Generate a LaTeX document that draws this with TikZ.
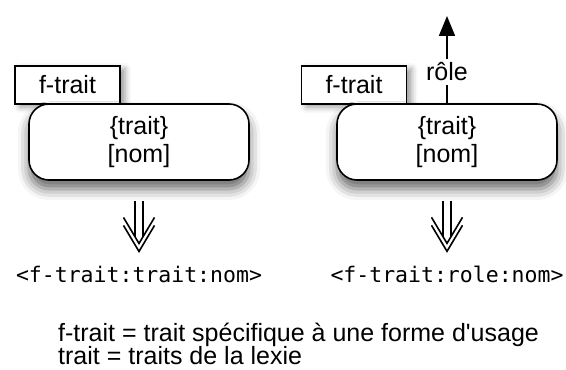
\documentclass[tikz,border=0pt]{standalone}
\usepackage{fontspec}
\setmainfont{Liberation Sans}
\newfontfamily\codefont{DejaVu Sans Mono}
\usetikzlibrary{arrows.meta, positioning, shadows.blur}

% pointe en double chevron pour les fleches doubles
\pgfdeclarearrow{
  name = Chevrons,
  parameters = {},
  setup code = {
    \pgfarrowssettipend{1pt}
    \pgfarrowssetbackend{-34pt}
    \pgfarrowssetlineend{-14pt}
  },
  drawing code = {
    \pgfsetlinewidth{1.6pt}
    \pgfsetinnerlinewidth{0pt}
    \pgfsetdash{}{0pt}
    \pgfsetmiterjoin
    \pgfpathmoveto{\pgfpoint{-26pt}{15.5pt}}
    \pgfpathlineto{\pgfpoint{0pt}{0pt}}
    \pgfpathlineto{\pgfpoint{-26pt}{-15.5pt}}
    \pgfpathmoveto{\pgfpoint{-34pt}{15.5pt}}
    \pgfpathlineto{\pgfpoint{-8pt}{0pt}}
    \pgfpathlineto{\pgfpoint{-34pt}{-15.5pt}}
    \pgfusepathqstroke
  }
}

\begin{document}
\begin{tikzpicture}[
        x=1pt, y=1pt,
        etiquette/.style={rectangle, draw=black, fill=white, line width=1.6pt, minimum width=105pt, minimum height=38pt, inner sep=0pt, font=\fontsize{25}{28}\selectfont, blur shadow={shadow xshift=5pt, shadow yshift=-3pt, shadow blur radius=6pt, shadow opacity=40}},
        bulle/.style={rectangle, rounded corners=20pt, draw=black, fill=white, line width=1.6pt, minimum width=220pt, minimum height=76pt, align=center, font=\fontsize{25}{28}\selectfont, blur shadow={shadow xshift=0pt, shadow yshift=-9pt, shadow blur radius=11pt, shadow opacity=60}},
        code/.style={font=\codefont\fontsize{21.5}{24}\selectfont, inner sep=0pt, anchor=base},
        implique/.style={double, double distance=6pt, line width=1.6pt, -{Chevrons}},
        fleche/.style={line width=1.8pt, -{Triangle[length=20pt, width=16pt]}},
        legende/.style={font=\fontsize{25}{28}\selectfont, inner sep=0pt, anchor=base west}
    ]
    \useasboundingbox (0,0) rectangle (566,370);

    % --- Gauche ---
    \node[etiquette] (ftraitA) at (67.5,285) {f-trait};
    \node[bulle] (bulleA) at (139,228) {\{trait\}\\{}[nom]};
    \node[code] (codeA) at (139,87) {<f-trait:trait:nom>};

    % --- Droite ---
    \node[etiquette] (ftraitB) at (354,285) {f-trait};
    \node[bulle] (bulleB) at (447,228) {\{trait\}\\{}[nom]};
    \node[code] (codeB) at (447,87) {<f-trait:role:nom>};
    \coordinate (sommetB) at (447,354);

    % --- Fleches ---
    \draw[implique, shorten <=20pt, shorten >=14pt] (bulleA) -- (codeA);
    \draw[implique, shorten <=20pt, shorten >=14pt] (bulleB) -- (codeB);
    \draw[fleche] (bulleB) -- node[pos=0.36, fill=white, inner sep=4pt, font=\fontsize{25}{28}\selectfont] (roleB) {rôle} (sommetB);

    % --- Legende ---
    \node[legende] (legendeA) at (58,28) {f-trait = trait spécifique à une forme d\textquotesingle usage};
    \node[legende] (legendeB) at (58,5) {trait = traits de la lexie};

\end{tikzpicture}
\end{document}
